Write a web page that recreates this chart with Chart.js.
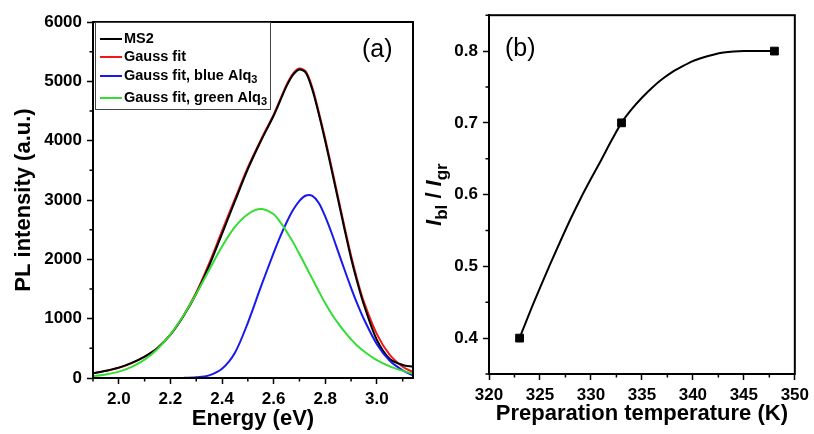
<!DOCTYPE html>
<html>
<head>
<meta charset="utf-8">
<script src="https://cdn.jsdelivr.net/npm/chart.js@4.4.1/dist/chart.umd.min.js"></script>
<style>
  html, body { margin: 0; padding: 0; background: #fff; }
  #wrap { position: relative; width: 814px; height: 434px; overflow: hidden; background: #fff; }
  #chartA { position: absolute; left: 0; top: 0; }
  #chartB { position: absolute; left: 420px; top: 0; }
</style>
</head>
<body>
<div id="wrap">
  <canvas id="chartA" width="420" height="434"></canvas>
  <canvas id="chartB" width="394" height="434"></canvas>
</div>
<script>
// ---- panel (a): PL spectrum and its Gauss fits ----
const energy     = [1.90, 1.95, 2.00, 2.05, 2.10, 2.15, 2.20, 2.25, 2.30, 2.35, 2.40, 2.45, 2.50, 2.55, 2.60, 2.625, 2.65, 2.675, 2.70, 2.725, 2.75, 2.775, 2.80, 2.825, 2.85, 2.875, 2.90, 2.925, 2.95, 3.00, 3.05, 3.10, 3.14];
const ms2        = [80, 122, 175, 255, 360, 505, 730, 1040, 1420, 1890, 2430, 2980, 3520, 3990, 4420, 4670, 4920, 5110, 5200, 5140, 4860, 4450, 3990, 3500, 3000, 2500, 2020, 1600, 1230, 640, 320, 220, 190];
const gaussFit   = [78, 120, 172, 252, 358, 505, 730, 1045, 1440, 1930, 2480, 3020, 3550, 4010, 4440, 4690, 4940, 5130, 5215, 5165, 4890, 4480, 4030, 3540, 3040, 2540, 2060, 1640, 1280, 740, 390, 190, 100];
const gaussBlue  = [0, 0, 0, 0, 0, 0, 0, 2, 12, 45, 155, 425, 930, 1530, 2110, 2380, 2620, 2830, 2985, 3075, 3070, 2950, 2720, 2440, 2130, 1820, 1520, 1240, 990, 570, 290, 130, 45];
const gaussGreen = [30, 60, 107, 188, 310, 490, 735, 1050, 1420, 1820, 2215, 2545, 2760, 2848, 2760, 2630, 2470, 2290, 2090, 1880, 1670, 1460, 1260, 1080, 920, 780, 650, 540, 450, 300, 195, 120, 75];
const seriesNames  = ['MS2', 'Gauss fit', 'Gauss fit, blue Alq_3', 'Gauss fit, green Alq_3'];
const seriesColors = ['#000000', '#f01818', '#1818f0', '#33dd33'];
const drawOrder    = [2, 3, 1, 0];   // green on top, red underneath black
const energyTicks    = [2.0, 2.2, 2.4, 2.6, 2.8, 3.0];
const intensityTicks = [0, 1000, 2000, 3000, 4000, 5000, 6000];

// ---- panel (b): intensity ratio vs preparation temperature ----
const prepTemp   = [323, 333, 348];
const ratio      = [0.4, 0.7, 0.8];
const fitTemp    = [323, 324, 325, 326, 327, 328, 329, 330, 331, 332, 333, 334, 335, 336, 337, 338, 339, 340, 341, 342, 343, 344, 345, 346, 348];
const fitRatio   = [0.400, 0.436, 0.470, 0.503, 0.535, 0.566, 0.595, 0.622, 0.648, 0.675, 0.700, 0.719, 0.735, 0.749, 0.761, 0.771, 0.779, 0.786, 0.791, 0.795, 0.798, 0.7995, 0.800, 0.800, 0.800];
const tempTicks  = [320, 325, 330, 335, 340, 345, 350];
const ratioTicks = [0.4, 0.5, 0.6, 0.7, 0.8];

const FONT = '"Liberation Sans", Arial, Helvetica, sans-serif';
const toPts = (xs, ys) => xs.map((x, i) => ({ x: x, y: ys[i] }));

function axis(min, max, ticks, fmt, fit) {
    return {
        type: 'linear',
        min: min,
        max: max,
        afterBuildTicks: s => { s.ticks = ticks.map(v => ({ value: v })); },
        afterFit: fit,
        ticks: {
            color: '#000',
            font: { family: FONT, size: 17, weight: 'bold' },
            padding: 5,
            autoSkip: false,
            maxRotation: 0,
            callback: v => fmt(v)
        },
        grid: { drawOnChartArea: false, drawTicks: true, tickLength: 6, tickWidth: 1.5, tickColor: '#000' },
        border: { display: true, color: '#000', width: 2 }
    };
}

// box around the plot + short minor ticks halfway between the major ones
const frame = {
    id: 'frame',
    afterDraw(chart) {
        const { ctx, chartArea: a } = chart;
        ctx.save();
        ctx.strokeStyle = '#000';
        ctx.lineWidth = 2;
        ctx.strokeRect(a.left, a.top, a.right - a.left, a.bottom - a.top);
        ctx.lineWidth = 1.5;
        ['x', 'y'].forEach(id => {
            const s = chart.scales[id];
            const vals = s.ticks.map(t => t.value);
            const step = vals[1] - vals[0];
            ctx.beginPath();
            for (let k = -1; k < vals.length; k++) {
                const v = vals[0] + step * (k + 0.5);
                if (v < s.min - 1e-9 || v > s.max + 1e-9) continue;
                const p = s.getPixelForValue(v);
                if (id === 'x') { ctx.moveTo(p, a.bottom); ctx.lineTo(p, a.bottom + 3.5); }
                else { ctx.moveTo(a.left - 3.5, p); ctx.lineTo(a.left, p); }
            }
            ctx.stroke();
        });
        ctx.restore();
    }
};

// text with optional italic / subscript parts
function drawParts(ctx, parts, x, y, size) {
    parts.forEach(p => {
        const fs = p.sub ? Math.round(size * 0.78) : size;
        ctx.font = (p.italic ? 'italic ' : '') + 'bold ' + fs + 'px ' + FONT;
        ctx.fillText(p.t, x, y + (p.sub ? size * 0.28 : 0));
        x += ctx.measureText(p.t).width;
    });
    return x;
}
const labelParts = s => {
    const [main, sub] = s.split('_');
    return sub ? [{ t: main }, { t: sub, sub: true }] : [{ t: main }];
};

const boxLegend = {
    id: 'boxLegend',
    afterDraw(chart, args, o) {
        if (!o.rows) return;
        const { ctx, chartArea: a } = chart;
        const x0 = a.left + o.dx, y0 = a.top + o.dy;
        ctx.save();
        ctx.fillStyle = '#fff';
        ctx.fillRect(x0, y0, o.w, o.h);
        ctx.strokeStyle = '#444';
        ctx.lineWidth = 1;
        ctx.strokeRect(x0 + 0.5, y0 + 0.5, o.w, o.h);
        ctx.textBaseline = 'middle';
        ctx.fillStyle = '#000';
        chart.data.datasets.forEach((ds, i) => {
            const y = y0 + o.rows[i];
            ctx.strokeStyle = ds.borderColor;
            ctx.lineWidth = 2;
            ctx.beginPath();
            ctx.moveTo(x0 + 5, y);
            ctx.lineTo(x0 + 27, y);
            ctx.stroke();
            drawParts(ctx, labelParts(ds.label), x0 + 29, y, o.size);
        });
        ctx.restore();
    }
};

const cornerText = {
    id: 'cornerText',
    afterDraw(chart, args, o) {
        if (!o.text) return;
        const { ctx, chartArea: a } = chart;
        ctx.save();
        ctx.font = o.size + 'px ' + FONT;
        ctx.fillStyle = '#000';
        ctx.textBaseline = 'alphabetic';
        ctx.fillText(o.text, a.left + o.dx, a.top + o.dy);
        ctx.restore();
    }
};

const richYTitle = {
    id: 'richYTitle',
    afterDraw(chart, args, o) {
        if (!o.parts) return;
        const { ctx, chartArea: a } = chart;
        ctx.save();
        let w = 0;
        o.parts.forEach(p => {
            const fs = p.sub ? Math.round(o.size * 0.78) : o.size;
            ctx.font = (p.italic ? 'italic ' : '') + 'bold ' + fs + 'px ' + FONT;
            w += ctx.measureText(p.t).width;
        });
        ctx.translate(o.x, (a.top + a.bottom) / 2);
        ctx.rotate(-Math.PI / 2);
        ctx.fillStyle = '#000';
        ctx.textBaseline = 'alphabetic';
        drawParts(ctx, o.parts, -w / 2, 0, o.size);
        ctx.restore();
    }
};

const plugins = [frame, boxLegend, cornerText, richYTitle];

// ---- chart (a) ----
const xA = axis(1.9, 3.14, energyTicks, v => v.toFixed(1), s => { s.height = 56; });
xA.title = { display: true, text: 'Energy (eV)', color: '#000', font: { family: FONT, size: 22, weight: 'bold' }, padding: { top: 0, bottom: 2 } };
const yA = axis(0, 6000, intensityTicks, v => String(v), s => { s.width = 93; });
yA.title = { display: true, text: 'PL intensity (a.u.)', color: '#000', font: { family: FONT, size: 22, weight: 'bold' }, padding: { top: 11, bottom: 0 } };

new Chart(document.getElementById('chartA'), {
    type: 'line',
    data: {
        datasets: [ms2, gaussFit, gaussBlue, gaussGreen].map((ys, i) => ({
            label: seriesNames[i],
            data: toPts(energy, ys),
            borderColor: seriesColors[i],
            backgroundColor: seriesColors[i],
            borderWidth: 2,
            pointRadius: 0,
            fill: false,
            order: drawOrder[i],
            tension: 0.3
        }))
    },
    options: {
        responsive: false,
        animation: false,
        layout: { padding: { left: 0, top: 22, right: 7, bottom: 0 } },
        scales: { x: xA, y: yA },
        plugins: {
            legend: { display: false },
            tooltip: { enabled: false },
            boxLegend: { dx: 2, dy: 0, w: 175, h: 87, rows: [17, 35, 54, 76], size: 14.5 },
            cornerText: { text: '(a)', dx: 269, dy: 35, size: 25 }
        }
    },
    plugins: plugins
});

// ---- chart (b) ----
const xB = axis(320, 350, tempTicks, v => String(v), s => { s.height = 60; });
xB.title = { display: true, text: 'Preparation temperature (K)', color: '#000', font: { family: FONT, size: 22, weight: 'bold' }, padding: { top: 0, bottom: 7 } };
const yB = axis(0.35, 0.85, ratioTicks, v => v.toFixed(1), s => { s.width = 69; });

new Chart(document.getElementById('chartB'), {
    type: 'scatter',
    data: {
        datasets: [
            {
                label: 'I_bl / I_gr',
                data: toPts(prepTemp, ratio),
                showLine: false,
                pointStyle: 'rect',
                pointRadius: 5.5,
                borderWidth: 1,
                borderColor: '#000',
                backgroundColor: '#000',
                order: 0
            },
            {
                label: 'fit',
                data: toPts(fitTemp, fitRatio),
                showLine: true,
                pointRadius: 0,
                borderColor: '#000',
                borderWidth: 2,
                cubicInterpolationMode: 'monotone',
                order: 1
            }
        ]
    },
    options: {
        responsive: false,
        animation: false,
        layout: { padding: { left: 0, top: 14, right: 14, bottom: 0 } },
        scales: { x: xB, y: yB },
        plugins: {
            legend: { display: false },
            tooltip: { enabled: false },
            cornerText: { text: '(b)', dx: 16, dy: 41, size: 25 },
            richYTitle: {
                x: 21,
                size: 22,
                parts: [
                    { t: 'I', italic: true }, { t: 'bl', sub: true },
                    { t: ' / ' },
                    { t: 'I', italic: true }, { t: 'gr', sub: true }
                ]
            }
        }
    },
    plugins: plugins
});
</script>
</body>
</html>
